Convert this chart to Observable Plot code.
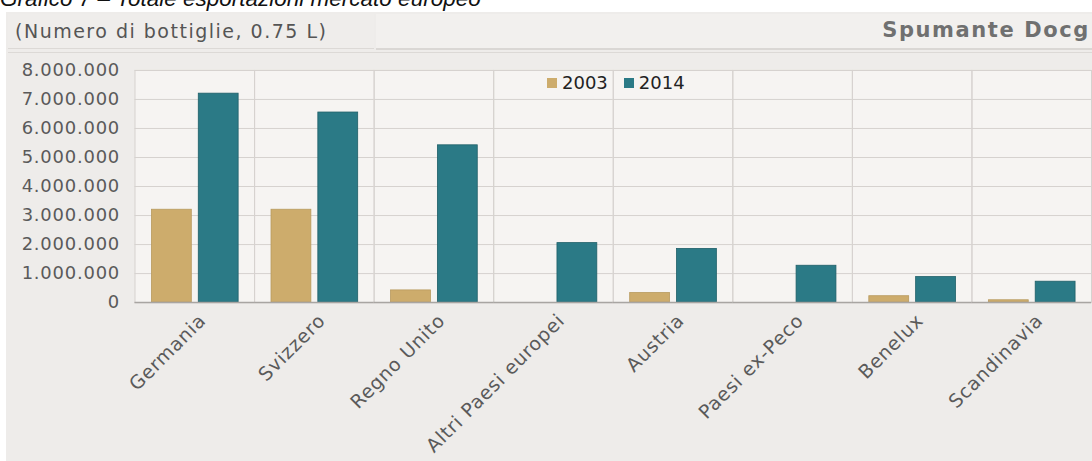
<!DOCTYPE html>
<html>
<head>
<meta charset="utf-8">
<script src="https://cdn.jsdelivr.net/npm/d3@7"></script>
<script src="https://cdn.jsdelivr.net/npm/@observablehq/plot@0.6"></script>
<style>
  html, body { margin: 0; padding: 0; background: #ffffff; }
  body { width: 1092px; height: 461px; overflow: hidden; position: relative; font-family: "DejaVu Sans", sans-serif; }
  #title { position: absolute; left: 0; top: -12px; font: italic 22.5px/1 "Liberation Sans", Arial, sans-serif; color: #111; white-space: nowrap; }
  #panel { position: absolute; left: 6px; top: 12px; width: 1090px; height: 452px; background: #eeecea; }
  #hdrL { position: absolute; left: 8px; top: 14px; width: 366px; height: 34px; background: #efedeb; border-bottom: 1px solid #dcd9d6; }
  #hdrR { position: absolute; left: 376px; top: 14px; width: 720px; height: 34px; background: #f2f0ee; border-bottom: 2px solid #dad7d4; }
  #hdrLine { position: absolute; left: 8px; top: 52px; width: 1090px; height: 1px; background: #dcd9d6; }
  #sub { position: absolute; left: 15px; top: 20px; font-size: 19px; letter-spacing: 1.5px; color: #555; white-space: nowrap; }
  #tag { position: absolute; right: 2px; top: 18px; font-size: 21px; letter-spacing: 1.6px; font-weight: bold; color: #707070; white-space: nowrap; }
  #chart { position: absolute; left: 0; top: 55px; }
  #legend { position: absolute; left: 547px; top: 72px; font-size: 18px; color: #222; white-space: nowrap; display: flex; align-items: center; }
  #legend .sw { display: inline-block; width: 10px; height: 10px; margin-right: 5px; }
  #chart [aria-label="y-axis tick label"] { font-size: 18px; letter-spacing: 0.8px; }
  #chart [aria-label="fx-axis tick label"] { font-size: 19px; letter-spacing: 0.8px; }
</style>
</head>
<body>
<div id="title">Grafico 7 – Totale esportazioni mercato europeo</div>
<div id="panel"></div>
<div id="hdrL"></div>
<div id="hdrR"></div>
<div id="hdrLine"></div>
<div id="sub">(Numero di bottiglie, 0.75 L)</div>
<div id="tag">Spumante Docg</div>
<div id="chart"></div>
<div id="legend"></div>
<script>
const countries = ["Germania", "Svizzero", "Regno Unito", "Altri Paesi europei", "Austria", "Paesi ex-Peco", "Benelux", "Scandinavia"];
const years = ["2003", "2014"];
const values2003 = [3200000, 3200000, 420000, 0, 330000, 0, 220000, 80000];
const values2014 = [7200000, 6550000, 5420000, 2050000, 1850000, 1270000, 880000, 720000];
const yTicks = [0, 1000000, 2000000, 3000000, 4000000, 5000000, 6000000, 7000000, 8000000];
const colors = ["#cdac6c", "#2b7a86"];

const data = [];
countries.forEach((c, i) => {
  data.push({country: c, year: "2003", value: values2003[i]});
  data.push({country: c, year: "2014", value: values2014[i]});
});

const it = d3.formatLocale({decimal: ",", thousands: ".", grouping: [3], currency: ["", "€"]});
const fmt = it.format(",d");

const chart = Plot.plot({
  width: 1096,
  height: 406,
  marginTop: 15,
  marginBottom: 158,
  marginLeft: 133,
  marginRight: 0,
  style: {fontFamily: "DejaVu Sans, sans-serif", fontSize: "17px", color: "#5a5a5a", background: "transparent", overflow: "visible"},
  fx: {domain: countries, padding: 0, label: null},
  x: {domain: years, paddingInner: 0.15, paddingOuter: 0.33, axis: null},
  y: {domain: [0, 8000000], ticks: yTicks, label: null},
  color: {domain: years, range: colors},
  marks: [
    Plot.frame({fill: "#f6f4f2"}),
    Plot.gridY(yTicks, {stroke: "#d6d2cf", strokeOpacity: 1}),
    Plot.frame({stroke: "#d6d2cf"}),
    Plot.barY(data, {fx: "country", x: "year", y: "value", fill: "year", stroke: d => d.year === "2014" ? "#1f5f68" : "#b89a5e", strokeWidth: 0.8}),
    Plot.ruleY([0], {stroke: "#a8a5a2", strokeWidth: 1.5}),
    Plot.axisY(yTicks, {tickSize: 0, tickPadding: 15, tickFormat: fmt, label: null, fill: "#5a5a5a"}),
    Plot.axisFx({anchor: "bottom", tickSize: 0, tickRotate: -45, tickPadding: 10, label: null, fill: "#5a5a5a", dx: 8, dy: 5})
  ]
});
document.getElementById("chart").appendChild(chart);

const lg = document.getElementById("legend");
years.forEach((y, i) => {
  const sw = document.createElement("span");
  sw.className = "sw";
  sw.style.background = colors[i];
  lg.appendChild(sw);
  const t = document.createElement("span");
  t.textContent = y;
  t.style.marginRight = i === 0 ? "16px" : "0";
  lg.appendChild(t);
});
</script>
</body>
</html>
